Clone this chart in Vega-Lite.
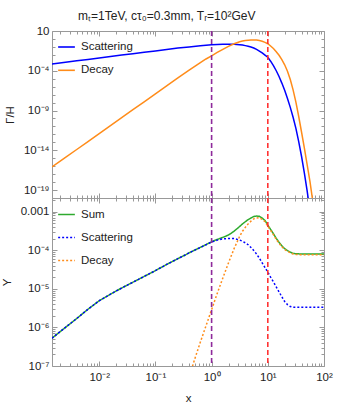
{
  "$schema": "https://vega.github.io/schema/vega-lite/v6.json",
  "padding": {"left": 0, "top": 9, "right": 5, "bottom": 2},
  "title": {"text": "mₜ=1TeV, cτ₀=0.3mm, Tᵣ=10²GeV", "fontSize": 12, "font": "Liberation Sans", "fontWeight": "normal", "color": "#222", "offset": 2, "anchor": "middle"},
  "spacing": 0,
  "bounds": "flush",
  "config": {
    "view": {"stroke": "#999", "strokeWidth": 1},
    "font": "Liberation Sans",
    "axis": {"domain": false, "grid": false, "tickColor": "#999", "tickWidth": 1, "labelFont": "Liberation Sans", "labelFontSize": 11.5, "labelColor": "#222", "titleFont": "Liberation Sans", "titleFontSize": 11.5, "titleFontWeight": "normal", "titleColor": "#222", "labelOverlap": false, "labelFlush": false, "labelBound": false},
    "legend": {"labelFont": "Liberation Sans", "labelFontSize": 11.5, "labelColor": "#222"}
  },
  "resolve": {"scale": {"y": "independent", "color": "independent", "strokeDash": "independent"}},
  "datasets": {
    "top": [
      {"x": 0.001445, "Scattering": 7.08e-4, "Decay": 7.943e-17},
      {"x": 0.002512, "Scattering": 1.175e-3, "Decay": 1.259e-15},
      {"x": 0.003981, "Scattering": 1.778e-3, "Decay": 1.259e-14},
      {"x": 0.00631, "Scattering": 2.692e-3, "Decay": 1.259e-13},
      {"x": 0.01, "Scattering": 4.074e-3, "Decay": 1.259e-12},
      {"x": 0.01585, "Scattering": 6.166e-3, "Decay": 1.259e-11},
      {"x": 0.02512, "Scattering": 9.333e-3, "Decay": 1.259e-10},
      {"x": 0.03981, "Scattering": 1.38e-2, "Decay": 1.259e-9},
      {"x": 0.0631, "Scattering": 2.089e-2, "Decay": 1.259e-8},
      {"x": 0.1, "Scattering": 3.09e-2, "Decay": 1.259e-7},
      {"x": 0.1585, "Scattering": 4.571e-2, "Decay": 1.259e-6},
      {"x": 0.2512, "Scattering": 7.079e-2, "Decay": 1.259e-5},
      {"x": 0.3981, "Scattering": 0.1, "Decay": 1.202e-4},
      {"x": 0.631, "Scattering": 0.138, "Decay": 1.072e-3},
      {"x": 0.7943, "Scattering": 0.1622, "Decay": 3.02e-3},
      {"x": 1, "Scattering": 0.1862, "Decay": 7.586e-3},
      {"x": 1.259, "Scattering": 0.2042, "Decay": 1.995e-2},
      {"x": 1.585, "Scattering": 0.2163, "Decay": 5.012e-2},
      {"x": 1.995, "Scattering": 0.2213, "Decay": 0.1175},
      {"x": 2.512, "Scattering": 0.2163, "Decay": 0.2512},
      {"x": 3.162, "Scattering": 0.1905, "Decay": 0.4467},
      {"x": 3.548, "Scattering": 0.1698, "Decay": 0.537},
      {"x": 3.981, "Scattering": 0.1445, "Decay": 0.631},
      {"x": 4.467, "Scattering": 0.1202, "Decay": 0.6918},
      {"x": 5.012, "Scattering": 0.09772, "Decay": 0.7413},
      {"x": 5.623, "Scattering": 0.07244, "Decay": 0.7586},
      {"x": 6.31, "Scattering": 0.04786, "Decay": 0.7244},
      {"x": 7.079, "Scattering": 0.0302, "Decay": 0.631},
      {"x": 7.943, "Scattering": 0.01738, "Decay": 0.5012},
      {"x": 8.913, "Scattering": 9.333e-3, "Decay": 0.3715},
      {"x": 10, "Scattering": 5.012e-3, "Decay": 0.2512},
      {"x": 11.22, "Scattering": 1.585e-3, "Decay": 0.1318},
      {"x": 12.59, "Scattering": 4.467e-4, "Decay": 0.0631},
      {"x": 14.13, "Scattering": 1e-4, "Decay": 0.02512},
      {"x": 15.85, "Scattering": 1.905e-5, "Decay": 8.913e-3},
      {"x": 17.78, "Scattering": 2.818e-6, "Decay": 2.512e-3},
      {"x": 19.95, "Scattering": 3.548e-7, "Decay": 5.623e-4},
      {"x": 22.39, "Scattering": 3.162e-8, "Decay": 8.913e-5},
      {"x": 25.12, "Scattering": 2.512e-9, "Decay": 7.943e-6},
      {"x": 28.18, "Scattering": 1.413e-10, "Decay": 3.981e-7},
      {"x": 31.62, "Scattering": 5.623e-12, "Decay": 1.122e-8},
      {"x": 35.48, "Scattering": 1.259e-13, "Decay": 1.778e-10},
      {"x": 39.81, "Scattering": 1.778e-15, "Decay": 1.995e-12},
      {"x": 44.67, "Scattering": 1.413e-17, "Decay": 1.995e-14},
      {"x": 50.12, "Scattering": 7.943e-20, "Decay": 1.585e-16},
      {"x": 56.23, "Scattering": 2.512e-22, "Decay": 1.259e-18},
      {"x": 63.1, "Decay": 3.981e-21}
    ],
    "bottom": [
      {"x": 0.001445, "Sum": 5.248e-7, "Scattering": 5.248e-7},
      {"x": 0.002512, "Sum": 1e-6, "Scattering": 1e-6},
      {"x": 0.003981, "Sum": 1.698e-6, "Scattering": 1.698e-6},
      {"x": 0.00631, "Sum": 2.951e-6, "Scattering": 2.951e-6},
      {"x": 0.01, "Sum": 4.898e-6, "Scattering": 4.898e-6},
      {"x": 0.01585, "Sum": 7.244e-6, "Scattering": 7.244e-6},
      {"x": 0.02512, "Sum": 1.047e-5, "Scattering": 1.047e-5},
      {"x": 0.03981, "Sum": 1.479e-5, "Scattering": 1.479e-5},
      {"x": 0.0631, "Sum": 2.089e-5, "Scattering": 2.089e-5},
      {"x": 0.1, "Sum": 2.951e-5, "Scattering": 2.951e-5},
      {"x": 0.1585, "Sum": 4.266e-5, "Scattering": 4.266e-5},
      {"x": 0.2512, "Sum": 6.026e-5, "Scattering": 6.026e-5},
      {"x": 0.3548, "Sum": 7.762e-5, "Scattering": 7.762e-5, "Decay": 3.162e-8},
      {"x": 0.3981, "Sum": 8.511e-5, "Scattering": 8.511e-5, "Decay": 5.248e-8},
      {"x": 0.5012, "Sum": 1.002e-4, "Scattering": 1e-4, "Decay": 1.514e-7},
      {"x": 0.631, "Sum": 1.179e-4, "Scattering": 1.175e-4, "Decay": 4.169e-7},
      {"x": 0.7943, "Sum": 1.391e-4, "Scattering": 1.38e-4, "Decay": 1.096e-6},
      {"x": 1, "Sum": 1.651e-4, "Scattering": 1.622e-4, "Decay": 2.884e-6},
      {"x": 1.259, "Sum": 1.896e-4, "Scattering": 1.82e-4, "Decay": 7.586e-6},
      {"x": 1.585, "Sum": 2.14e-4, "Scattering": 1.95e-4, "Decay": 1.905e-5},
      {"x": 1.995, "Sum": 2.463e-4, "Scattering": 1.995e-4, "Decay": 4.677e-5},
      {"x": 2.512, "Sum": 3.09e-4, "Scattering": 1.995e-4, "Decay": 1.096e-4},
      {"x": 3.162, "Sum": 4.11e-4, "Scattering": 1.82e-4, "Decay": 2.291e-4},
      {"x": 3.548, "Sum": 4.79e-4, "Scattering": 1.698e-4, "Decay": 3.09e-4},
      {"x": 3.981, "Sum": 5.44e-4, "Scattering": 1.549e-4, "Decay": 3.89e-4},
      {"x": 4.467, "Sum": 6.17e-4, "Scattering": 1.38e-4, "Decay": 4.786e-4},
      {"x": 5.012, "Sum": 6.8e-4, "Scattering": 1.175e-4, "Decay": 5.623e-4},
      {"x": 5.623, "Sum": 7.44e-4, "Scattering": 9.772e-5, "Decay": 6.457e-4},
      {"x": 6.31, "Sum": 7.63e-4, "Scattering": 7.943e-5, "Decay": 6.84e-4},
      {"x": 7.079, "Sum": 7.54e-4, "Scattering": 6.166e-5, "Decay": 6.918e-4},
      {"x": 7.943, "Sum": 6.78e-4, "Scattering": 4.677e-5, "Decay": 6.31e-4},
      {"x": 8.913, "Sum": 5.85e-4, "Scattering": 3.548e-5, "Decay": 5.495e-4},
      {"x": 10, "Sum": 4.44e-4, "Scattering": 2.692e-5, "Decay": 4.169e-4},
      {"x": 11.22, "Sum": 3.44e-4, "Scattering": 1.995e-5, "Decay": 3.236e-4},
      {"x": 12.59, "Sum": 2.66e-4, "Scattering": 1.514e-5, "Decay": 2.512e-4},
      {"x": 14.13, "Sum": 2.02e-4, "Scattering": 1.122e-5, "Decay": 1.905e-4},
      {"x": 15.85, "Sum": 1.6e-4, "Scattering": 8.318e-6, "Decay": 1.514e-4},
      {"x": 17.78, "Sum": 1.29e-4, "Scattering": 6.166e-6, "Decay": 1.23e-4},
      {"x": 19.95, "Sum": 1.094e-4, "Scattering": 4.677e-6, "Decay": 1.047e-4},
      {"x": 22.39, "Sum": 9.72e-5, "Scattering": 3.89e-6, "Decay": 9.333e-5},
      {"x": 25.12, "Sum": 8.86e-5, "Scattering": 3.467e-6, "Decay": 8.511e-5},
      {"x": 28.18, "Sum": 8.27e-5, "Scattering": 3.311e-6, "Decay": 7.943e-5},
      {"x": 31.62, "Sum": 8.09e-5, "Scattering": 3.311e-6, "Decay": 7.762e-5},
      {"x": 39.81, "Sum": 7.92e-5, "Scattering": 3.311e-6, "Decay": 7.586e-5},
      {"x": 100, "Sum": 7.92e-5, "Scattering": 3.311e-6, "Decay": 7.586e-5}
    ]
  },
  "vconcat": [
    {
      "width": 272,
      "height": 167,
      "layer": [
        {
          "data": {"name": "top"},
          "transform": [{"fold": ["Scattering", "Decay"], "as": ["s", "v"]}, {"filter": "isValid(datum.v)"}],
          "mark": {"type": "line", "strokeWidth": 1.5, "clip": true},
          "encoding": {
            "x": {"field": "x", "type": "quantitative", "scale": {"type": "log", "domain": [0.001445, 100], "nice": false},
              "axis": {"orient": "bottom", "title": null, "labels": false,
                "values": [0.002,0.003,0.004,0.005,0.006,0.007,0.008,0.009,0.01,0.02,0.03,0.04,0.05,0.06,0.07,0.08,0.09,0.1,0.2,0.3,0.4,0.5,0.6,0.7,0.8,0.9,1,2,3,4,5,6,7,8,9,10,20,30,40,50,60,70,80,90,100],
                "tickSize": {"condition": {"test": "abs(log(datum.value)/LN10 - round(log(datum.value)/LN10)) < 0.001", "value": -5}, "value": -3}}},
            "y": {"field": "v", "type": "quantitative", "scale": {"type": "log", "domain": [1e-20, 10], "nice": false},
              "axis": {"orient": "left", "title": "Γ/H", "titlePadding": 8, "labelPadding": 8,
                "values": [1e-20,1e-19,1e-18,1e-17,1e-16,1e-15,1e-14,1e-13,1e-12,1e-11,1e-10,1e-9,1e-8,1e-7,1e-6,1e-5,1e-4,1e-3,0.01,0.1,1,10],
                "labelExpr": "round(log(datum.value)/LN10) == 1 ? '10' : round(log(datum.value)/LN10) == -4 ? '10⁻⁴' : round(log(datum.value)/LN10) == -9 ? '10⁻⁹' : round(log(datum.value)/LN10) == -14 ? '10⁻¹⁴' : round(log(datum.value)/LN10) == -19 ? '10⁻¹⁹' : ''",
                "tickSize": {"condition": {"test": "(round(log(datum.value)/LN10) + 19) % 5 == 0", "value": -5}, "value": -3}}},
            "color": {"field": "s", "type": "nominal", "scale": {"domain": ["Scattering", "Decay"], "range": ["#0000FF", "#FF8C1A"]},
              "legend": {"orient": "none", "legendX": 5, "legendY": 6.5, "title": null, "symbolType": "stroke", "symbolSize": 280, "symbolStrokeWidth": 1.6, "rowPadding": 8.3, "labelOffset": 5, "padding": 0}}
          }
        },
        {
          "data": {"name": "top"},
          "transform": [{"fold": ["Scattering", "Decay"], "as": ["s", "v"]}, {"filter": "isValid(datum.v)"}],
          "mark": {"type": "line", "opacity": 0, "clip": true},
          "encoding": {
            "x": {"field": "x", "type": "quantitative",
              "axis": {"orient": "top", "title": null, "labels": false,
                "values": [0.002,0.003,0.004,0.005,0.006,0.007,0.008,0.009,0.01,0.02,0.03,0.04,0.05,0.06,0.07,0.08,0.09,0.1,0.2,0.3,0.4,0.5,0.6,0.7,0.8,0.9,1,2,3,4,5,6,7,8,9,10,20,30,40,50,60,70,80,90,100],
                "tickSize": {"condition": {"test": "abs(log(datum.value)/LN10 - round(log(datum.value)/LN10)) < 0.001", "value": -5}, "value": -3}}},
            "y": {"field": "v", "type": "quantitative",
              "axis": {"orient": "right", "title": null, "labels": false,
                "values": [1e-20,1e-19,1e-18,1e-17,1e-16,1e-15,1e-14,1e-13,1e-12,1e-11,1e-10,1e-9,1e-8,1e-7,1e-6,1e-5,1e-4,1e-3,0.01,0.1,1,10],
                "tickSize": {"condition": {"test": "(round(log(datum.value)/LN10) + 19) % 5 == 0", "value": -5}, "value": -3}}}
          }
        },
        {
          "data": {"values": [{"x": 1}]},
          "mark": {"type": "rule", "color": "#8E2A9B", "strokeDash": [5, 3], "strokeWidth": 1.6},
          "encoding": {"x": {"field": "x", "type": "quantitative", "axis": null}}
        },
        {
          "data": {"values": [{"x": 10}]},
          "mark": {"type": "rule", "color": "#FF3333", "strokeDash": [5, 3], "strokeWidth": 1.6},
          "encoding": {"x": {"field": "x", "type": "quantitative", "axis": null}}
        }
      ],
      "resolve": {"axis": {"x": "independent", "y": "independent"}}
    },
    {
      "width": 272,
      "height": 168,
      "layer": [
        {
          "data": {"name": "bottom"},
          "transform": [{"fold": ["Sum", "Scattering", "Decay"], "as": ["s", "v"]}, {"filter": "isValid(datum.v)"}],
          "mark": {"type": "line", "strokeWidth": 1.5, "clip": true},
          "encoding": {
            "x": {"field": "x", "type": "quantitative", "scale": {"type": "log", "domain": [0.001445, 100], "nice": false},
              "axis": {"orient": "bottom", "title": "x", "titlePadding": 8, "labelPadding": 10,
                "values": [0.002,0.003,0.004,0.005,0.006,0.007,0.008,0.009,0.01,0.02,0.03,0.04,0.05,0.06,0.07,0.08,0.09,0.1,0.2,0.3,0.4,0.5,0.6,0.7,0.8,0.9,1,2,3,4,5,6,7,8,9,10,20,30,40,50,60,70,80,90,100],
                "labelExpr": "datum.value == 0.01 ? '10⁻²' : datum.value == 0.1 ? '10⁻¹' : datum.value == 1 ? '10⁰' : datum.value == 10 ? '10¹' : datum.value == 100 ? '10²' : ''",
                "tickSize": {"condition": {"test": "abs(log(datum.value)/LN10 - round(log(datum.value)/LN10)) < 0.001", "value": -5}, "value": -3}}},
            "y": {"field": "v", "type": "quantitative", "scale": {"type": "log", "domain": [1e-7, 0.00224], "nice": false},
              "axis": {"orient": "left", "title": "Y", "titlePadding": 8, "labelPadding": 8,
                "values": [1e-7,2e-7,3e-7,4e-7,5e-7,6e-7,7e-7,8e-7,9e-7,1e-6,2e-6,3e-6,4e-6,5e-6,6e-6,7e-6,8e-6,9e-6,1e-5,2e-5,3e-5,4e-5,5e-5,6e-5,7e-5,8e-5,9e-5,1e-4,2e-4,3e-4,4e-4,5e-4,6e-4,7e-4,8e-4,9e-4,1e-3,2e-3],
                "labelExpr": "abs(log(datum.value)/LN10 - round(log(datum.value)/LN10)) > 0.001 ? '' : round(log(datum.value)/LN10) == -3 ? '0.001' : round(log(datum.value)/LN10) == -4 ? '10⁻⁴' : round(log(datum.value)/LN10) == -5 ? '10⁻⁵' : round(log(datum.value)/LN10) == -6 ? '10⁻⁶' : round(log(datum.value)/LN10) == -7 ? '10⁻⁷' : ''",
                "tickSize": {"condition": {"test": "abs(log(datum.value)/LN10 - round(log(datum.value)/LN10)) < 0.001", "value": -5}, "value": -3}}},
            "color": {"field": "s", "type": "nominal", "scale": {"domain": ["Sum", "Scattering", "Decay"], "range": ["#2EAA2E", "#0000FF", "#FF8C1A"]},
              "legend": {"orient": "none", "legendX": 5, "legendY": 7, "title": null, "symbolType": "stroke", "symbolSize": 280, "symbolStrokeWidth": 1.6, "rowPadding": 8, "labelOffset": 5, "padding": 0}},
            "strokeDash": {"field": "s", "type": "nominal", "scale": {"domain": ["Sum", "Scattering", "Decay"], "range": [[1, 0], [2, 2], [2, 2]]},
              "legend": {"orient": "none", "legendX": 5, "legendY": 7, "title": null, "symbolType": "stroke", "symbolSize": 280, "symbolStrokeWidth": 1.6, "rowPadding": 8, "labelOffset": 5, "padding": 0}}
          }
        },
        {
          "data": {"name": "bottom"},
          "transform": [{"fold": ["Sum", "Scattering", "Decay"], "as": ["s", "v"]}, {"filter": "isValid(datum.v)"}],
          "mark": {"type": "line", "opacity": 0, "clip": true},
          "encoding": {
            "x": {"field": "x", "type": "quantitative",
              "axis": {"orient": "top", "title": null, "labels": false,
                "values": [0.002,0.003,0.004,0.005,0.006,0.007,0.008,0.009,0.01,0.02,0.03,0.04,0.05,0.06,0.07,0.08,0.09,0.1,0.2,0.3,0.4,0.5,0.6,0.7,0.8,0.9,1,2,3,4,5,6,7,8,9,10,20,30,40,50,60,70,80,90,100],
                "tickSize": {"condition": {"test": "abs(log(datum.value)/LN10 - round(log(datum.value)/LN10)) < 0.001", "value": -5}, "value": -3}}},
            "y": {"field": "v", "type": "quantitative",
              "axis": {"orient": "right", "title": null, "labels": false,
                "values": [1e-7,2e-7,3e-7,4e-7,5e-7,6e-7,7e-7,8e-7,9e-7,1e-6,2e-6,3e-6,4e-6,5e-6,6e-6,7e-6,8e-6,9e-6,1e-5,2e-5,3e-5,4e-5,5e-5,6e-5,7e-5,8e-5,9e-5,1e-4,2e-4,3e-4,4e-4,5e-4,6e-4,7e-4,8e-4,9e-4,1e-3,2e-3],
                "tickSize": {"condition": {"test": "abs(log(datum.value)/LN10 - round(log(datum.value)/LN10)) < 0.001", "value": -5}, "value": -3}}}
          }
        },
        {
          "data": {"values": [{"x": 1}]},
          "mark": {"type": "rule", "color": "#8E2A9B", "strokeDash": [5, 3], "strokeWidth": 1.6},
          "encoding": {"x": {"field": "x", "type": "quantitative", "axis": null}}
        },
        {
          "data": {"values": [{"x": 10}]},
          "mark": {"type": "rule", "color": "#FF3333", "strokeDash": [5, 3], "strokeWidth": 1.6},
          "encoding": {"x": {"field": "x", "type": "quantitative", "axis": null}}
        }
      ],
      "resolve": {"axis": {"x": "independent", "y": "independent"}}
    }
  ]
}
